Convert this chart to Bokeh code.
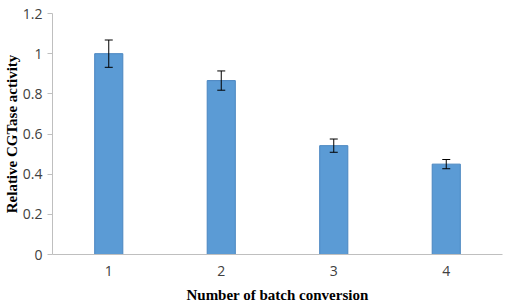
from bokeh.plotting import figure
from bokeh.models import ColumnDataSource, Whisker, Range1d, FixedTicker
from bokeh.embed import file_html
from bokeh.resources import INLINE

batches = [1, 2, 3, 4]
activity = [1.0, 0.866, 0.542, 0.450]
error = [0.068, 0.048, 0.033, 0.023]
y_ticks = [0, 0.2, 0.4, 0.6, 0.8, 1.0, 1.2]

upper = [a + e for a, e in zip(activity, error)]
lower = [a - e for a, e in zip(activity, error)]
src = ColumnDataSource(dict(x=batches, top=activity, upper=upper, lower=lower))

p = figure(width=510, height=305, output_backend="svg", toolbar_location=None,
           x_range=Range1d(0.5, 4.5), y_range=Range1d(0, 1.2),
           min_border_left=49, min_border_right=8, min_border_top=13, min_border_bottom=48)
p.outline_line_color = None
p.xgrid.visible = False
p.ygrid.visible = False
p.background_fill_color = "white"
p.border_fill_color = "white"

p.vbar(x="x", top="top", width=0.25, bottom=0, source=src,
       fill_color="#5B9BD5", line_color="#4A86C0", line_width=1)

w = Whisker(base="x", upper="upper", lower="lower", source=src,
            line_color="black", line_width=1, level="overlay")
w.upper_head.size = 8
w.lower_head.size = 8
w.upper_head.line_color = "black"
w.lower_head.line_color = "black"
p.add_layout(w)

p.xaxis.ticker = FixedTicker(ticks=batches)
p.yaxis.ticker = FixedTicker(ticks=y_ticks)
p.yaxis.major_label_overrides = {0: "0", 0.2: "0.2", 0.4: "0.4", 0.6: "0.6", 0.8: "0.8", 1.0: "1", 1.2: "1.2"}

for ax in (p.xaxis[0], p.yaxis[0]):
    ax.axis_line_color = "#BFBFBF"
    ax.major_tick_line_color = "#BFBFBF"
    ax.minor_tick_line_color = None
    ax.major_label_text_font = "Open Sans"
    ax.major_label_text_font_size = "14px"
    ax.major_label_text_color = "#404040"
    ax.axis_label_text_font = "Liberation Serif"
    ax.axis_label_text_font_style = "bold"
    ax.axis_label_text_font_size = "15px"
    ax.axis_label_text_color = "black"

p.xaxis.major_tick_out = 0
p.xaxis.major_tick_in = 0
p.xaxis.major_label_standoff = 11
p.xaxis.axis_label = "Number of batch conversion"
p.xaxis.axis_label_standoff = 8

p.yaxis.major_tick_out = 5
p.yaxis.major_tick_in = 0
p.yaxis.major_label_standoff = 5
p.yaxis.axis_label = "Relative CGTase activity"
p.yaxis.axis_label_standoff = 0

open("out.html", "w").write(file_html(p, INLINE))
